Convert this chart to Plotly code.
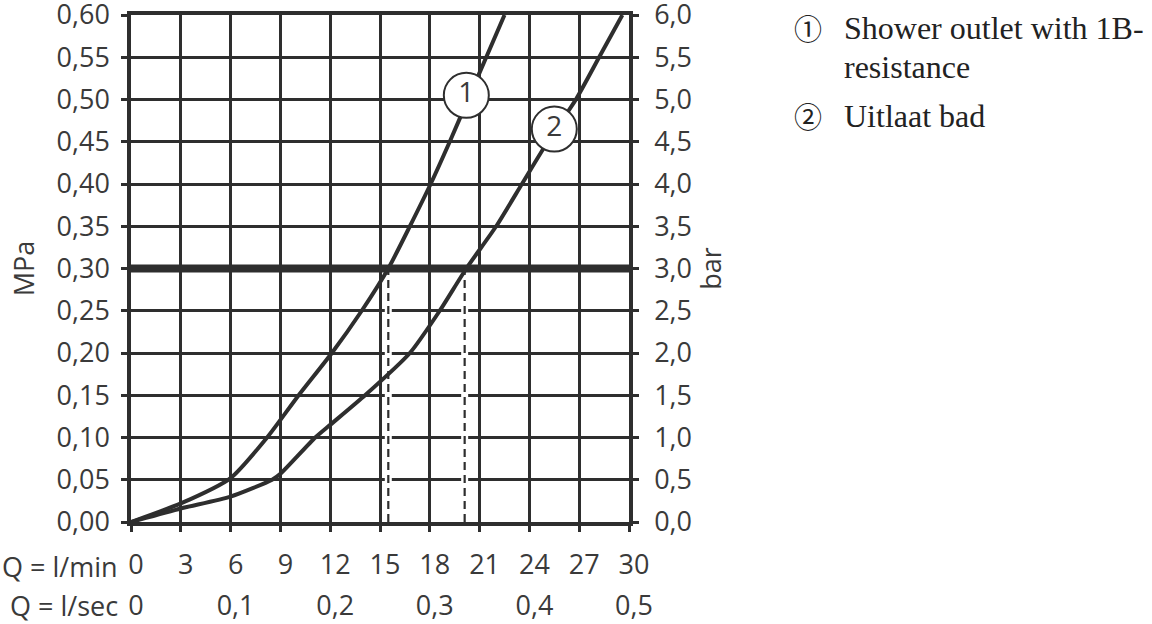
import plotly.graph_objects as go

# ---------------- data ----------------
# Curve 1: Shower outlet with 1B-resistance  (Q in l/min, p in MPa)
q_curve1 = [0, 3, 6, 8.2, 10.1, 12.1, 13.9, 15.5, 16.8, 18.05, 19.2, 20.3, 21.4, 22.5]
p_curve1 = [0, 0.022, 0.052, 0.10, 0.15, 0.20, 0.25, 0.30, 0.35, 0.40, 0.45, 0.50, 0.55, 0.60]

# Curve 2: Uitlaat bad
q_curve2 = [0, 3, 6, 8.5, 9, 11.1, 12, 14.1, 16.8, 18.6, 20.2, 22.0, 23.55, 25.1, 26.8, 28.2, 29.6]
p_curve2 = [0, 0.016, 0.030, 0.050, 0.057, 0.10, 0.115, 0.15, 0.20, 0.25, 0.30, 0.35, 0.40, 0.45, 0.50, 0.55, 0.60]

# reference pressure line and flow at reference pressure
ref_pressure = 0.30
q_at_ref = [15.5, 20.1]

# circled curve labels
label_text = ["1", "2"]
label_q = [20.2, 25.5]
label_p = [0.505, 0.465]

# axis ticks
x_ticks_lmin = [0, 3, 6, 9, 12, 15, 18, 21, 24, 27, 30]
x_ticklabels_lmin = ["0", "3", "6", "9", "12", "15", "18", "21", "24", "27", "30"]
x_ticks_lsec = [0, 0.1, 0.2, 0.3, 0.4, 0.5]
x_ticklabels_lsec = ["0", "0,1", "0,2", "0,3", "0,4", "0,5"]
y_ticks_mpa = [0, 0.05, 0.10, 0.15, 0.20, 0.25, 0.30, 0.35, 0.40, 0.45, 0.50, 0.55, 0.60]
y_ticklabels_mpa = ["0,00", "0,05", "0,10", "0,15", "0,20", "0,25", "0,30",
                    "0,35", "0,40", "0,45", "0,50", "0,55", "0,60"]
y_ticks_bar = [0, 0.5, 1.0, 1.5, 2.0, 2.5, 3.0, 3.5, 4.0, 4.5, 5.0, 5.5, 6.0]
y_ticklabels_bar = ["0,0", "0,5", "1,0", "1,5", "2,0", "2,5", "3,0",
                    "3,5", "4,0", "4,5", "5,0", "5,5", "6,0"]

legend_items = [("①", "Shower outlet with 1B-", "resistance"), ("②", "Uitlaat bad", None)]

# ---------------- layout geometry ----------------
W, H = 1152, 624
PLOT_L, PLOT_R, PLOT_T, PLOT_B = 131, 629, 15, 522   # target plot box on screen
ML, MT = PLOT_L, PLOT_T
MR = W - PLOT_R
MB = 4
PW = W - ML - MR
PH = H - MT - MB


def px_x(px):
    return (px - ML) / PW


def px_y(py):
    return (H - MB - py) / PH


INK = "#2e2e2e"
TXT = "#3a3a3a"
SANS = "Open Sans, DejaVu Sans, sans-serif"
SERIF = "Liberation Serif, Times New Roman, serif"
FS = 27

fig = go.Figure()

# reference line
fig.add_trace(go.Scatter(x=[0, 30], y=[ref_pressure, ref_pressure], mode="lines",
                         line=dict(color=INK, width=8), hoverinfo="skip", showlegend=False))

# dashed drop lines (white underlay + dash)
for q in q_at_ref:
    fig.add_trace(go.Scatter(x=[q, q], y=[0, ref_pressure - 0.006], mode="lines",
                             line=dict(color="white", width=7), hoverinfo="skip", showlegend=False))
    fig.add_trace(go.Scatter(x=[q, q], y=[0, ref_pressure], mode="lines",
                             line=dict(color=INK, width=2.2, dash="8px,5px"),
                             hoverinfo="skip", showlegend=False))

# curves
fig.add_trace(go.Scatter(x=q_curve1, y=p_curve1, mode="lines",
                         line=dict(color=INK, width=4, shape="spline", smoothing=0.6),
                         showlegend=False))
fig.add_trace(go.Scatter(x=q_curve2, y=p_curve2, mode="lines",
                         line=dict(color=INK, width=4, shape="spline", smoothing=0.6),
                         showlegend=False))

# circled labels
fig.add_trace(go.Scatter(x=label_q, y=label_p, mode="markers+text", text=label_text,
                         textposition="middle center",
                         textfont=dict(family=SANS, size=28, color=TXT),
                         marker=dict(size=45, color="white", line=dict(color=INK, width=2)),
                         showlegend=False, cliponaxis=False))

# invisible traces for secondary axes
fig.add_trace(go.Scatter(x=[0, 6], y=[0, 6], mode="markers", marker=dict(opacity=0),
                         yaxis="y2", hoverinfo="skip", showlegend=False))
fig.add_trace(go.Scatter(x=[0, 0.5], y=[0, 0.6], mode="markers", marker=dict(opacity=0),
                         xaxis="x2", hoverinfo="skip", showlegend=False))

y_dom0 = px_y(PLOT_B)

fig.update_layout(
    width=W, height=H,
    margin=dict(l=ML, r=MR, t=MT, b=MB, pad=0, autoexpand=False),
    paper_bgcolor="white", plot_bgcolor="white",
    showlegend=False,
    font=dict(family=SANS, size=FS, color=TXT),
    xaxis=dict(range=[0, 30], tickvals=x_ticks_lmin, ticktext=x_ticklabels_lmin,
               showgrid=True, gridcolor=INK, gridwidth=2.5, zeroline=False,
               showline=True, linecolor=INK, linewidth=3.5, mirror=True,
               ticks="outside", ticklen=6, tickwidth=2.5, tickcolor=INK,
               ticklabelstandoff=10, ticklabelshift=5, automargin=False,
               ticklabeloverflow="allow",
               tickfont=dict(family=SANS, size=FS, color=TXT),
               anchor="y"),
    xaxis2=dict(range=[0, 0.5], tickvals=x_ticks_lsec, ticktext=x_ticklabels_lsec,
                overlaying="x", anchor="free", position=px_y(587), side="bottom",
                showgrid=False, zeroline=False, showline=False, ticks="",
                ticklabelshift=5, automargin=False, ticklabeloverflow="allow",
                tickfont=dict(family=SANS, size=FS, color=TXT)),
    yaxis=dict(range=[0, 0.6], domain=[y_dom0, 1], tickvals=y_ticks_mpa, ticktext=y_ticklabels_mpa,
               showgrid=True, gridcolor=INK, gridwidth=2.5, zeroline=False,
               showline=True, linecolor=INK, linewidth=3.5, mirror=True,
               ticks="outside", ticklen=6, tickwidth=2.5, tickcolor=INK,
               ticklabelstandoff=6, automargin=False, ticklabeloverflow="allow",
               tickfont=dict(family=SANS, size=FS, color=TXT),
               title=dict(text="MPa", font=dict(family=SANS, size=FS, color=TXT), standoff=15)),
    yaxis2=dict(range=[0, 6], overlaying="y", side="right", anchor="x",
                tickvals=y_ticks_bar, ticktext=y_ticklabels_bar,
                showgrid=False, zeroline=False, showline=True, linecolor=INK, linewidth=3.5,
                ticks="outside", ticklen=6, tickwidth=2.5, tickcolor=INK,
                ticklabelstandoff=10, automargin=False, ticklabeloverflow="allow",
                tickfont=dict(family=SANS, size=FS, color=TXT),
                title=dict(text="bar", font=dict(family=SANS, size=FS, color=TXT), standoff=12)),
)

annotations = []
# row labels under x axis
annotations.append(dict(text="Q = l/min", x=px_x(120), y=px_y(566), xref="paper", yref="paper",
                        xanchor="right", yanchor="middle", showarrow=False,
                        font=dict(family=SANS, size=FS, color=TXT)))
annotations.append(dict(text="Q = l/sec", x=px_x(120), y=px_y(605), xref="paper", yref="paper",
                        xanchor="right", yanchor="middle", showarrow=False,
                        font=dict(family=SANS, size=FS, color=TXT)))

# legend text on the right
legend_rows_py = [(28, 67), (116, None)]
for (sym, line1, line2), (py1, py2) in zip(legend_items, legend_rows_py):
    annotations.append(dict(text=sym, x=px_x(808), y=px_y(py1), xref="paper", yref="paper",
                            xanchor="center", yanchor="middle", showarrow=False,
                            font=dict(family="Noto Sans CJK JP", size=28, color="#222")))
    annotations.append(dict(text=line1, x=px_x(842), y=px_y(py1), xref="paper", yref="paper",
                            xanchor="left", yanchor="middle", showarrow=False,
                            font=dict(family=SERIF, size=32, color="#222")))
    if line2:
        annotations.append(dict(text=line2, x=px_x(842), y=px_y(py2), xref="paper", yref="paper",
                                xanchor="left", yanchor="middle", showarrow=False,
                                font=dict(family=SERIF, size=32, color="#222")))

fig.update_layout(annotations=annotations)

# remove the default page margin so the figure sits at the window's top-left corner
fig.write_html("out.html", config={"displayModeBar": False},
               post_script="document.body.style.margin='0';document.body.style.overflow='hidden';")
